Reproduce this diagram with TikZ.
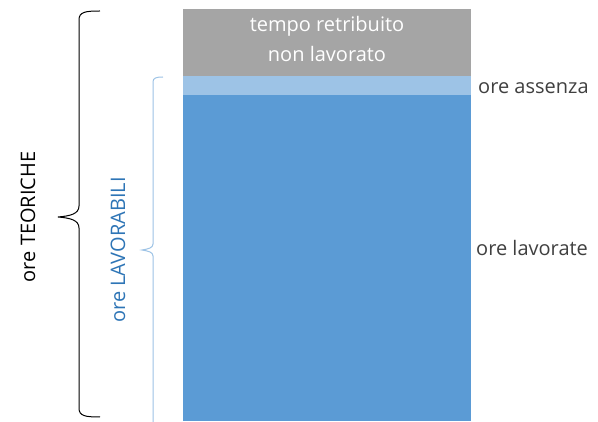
\documentclass[tikz,border=0pt]{standalone}
\usepackage{fontspec}
\setmainfont{Open Sans}
\definecolor{grayblk}{HTML}{A5A5A5}
\definecolor{lightblk}{HTML}{9DC3E6}
\definecolor{blueblk}{HTML}{5B9BD5}
\definecolor{labgray}{HTML}{404040}
\definecolor{labblue}{HTML}{2E75B6}
\begin{document}
\begin{tikzpicture}[x=1pt,y=-1pt,
  blk/.style={inner sep=0pt, outer sep=0pt, draw=none},
  lab/.style={font=\fontsize{20}{30}\selectfont, inner sep=0pt},
  bracestyle/.style={line width=1pt}]
\useasboundingbox (0,0) rectangle (598,422);
\fill[white] (0,0) rectangle (598,422);
% blocks
\node[blk, fill=grayblk, minimum width=288pt, minimum height=67pt, anchor=north west] (gray) at (183,9) {};
\node[blk, fill=lightblk, minimum width=288pt, minimum height=19pt, anchor=north west] (light) at (183,76) {};
\node[blk, fill=blueblk, minimum width=288pt, minimum height=326pt, anchor=north west] (blue) at (183,95) {};
% texts
\node[lab, text=white, align=center] (tempo) at (327,39) {tempo retribuito\\non lavorato};
\node[lab, text=labgray, anchor=west] (assenza) at (478,88) {ore assenza};
\node[lab, text=labgray, anchor=west] (lavorate) at (476,248) {ore lavorate};
\node[lab, text=black, rotate=90] (teoriche) at (28,217) {ore TEORICHE};
\node[lab, text=labblue, rotate=90] (lavorabili) at (118,250) {ore LAVORABILI};
% big brace
\coordinate (bt) at (100,11);
\coordinate (bb) at (100,417);
\coordinate (btip) at (58,217);
\draw[bracestyle, black] (bt) .. controls (85,11) and (79,12) .. (79,20) -- (79,206)
  .. controls (79,214) and (70,216) .. (btip)
  .. controls (70,218) and (79,220) .. (79,228) -- (79,408)
  .. controls (79,416) and (85,417) .. (bb);
% small brace
\coordinate (st) at (163,77);
\coordinate (sb) at (163,422);
\coordinate (stip) at (142,250);
\draw[bracestyle, lightblk] (st) .. controls (156,77) and (153,78) .. (153,82) -- (153,244)
  .. controls (153,248) and (148,249) .. (stip)
  .. controls (148,251) and (153,252) .. (153,256) -- (153,422);
\end{tikzpicture}
\end{document}
